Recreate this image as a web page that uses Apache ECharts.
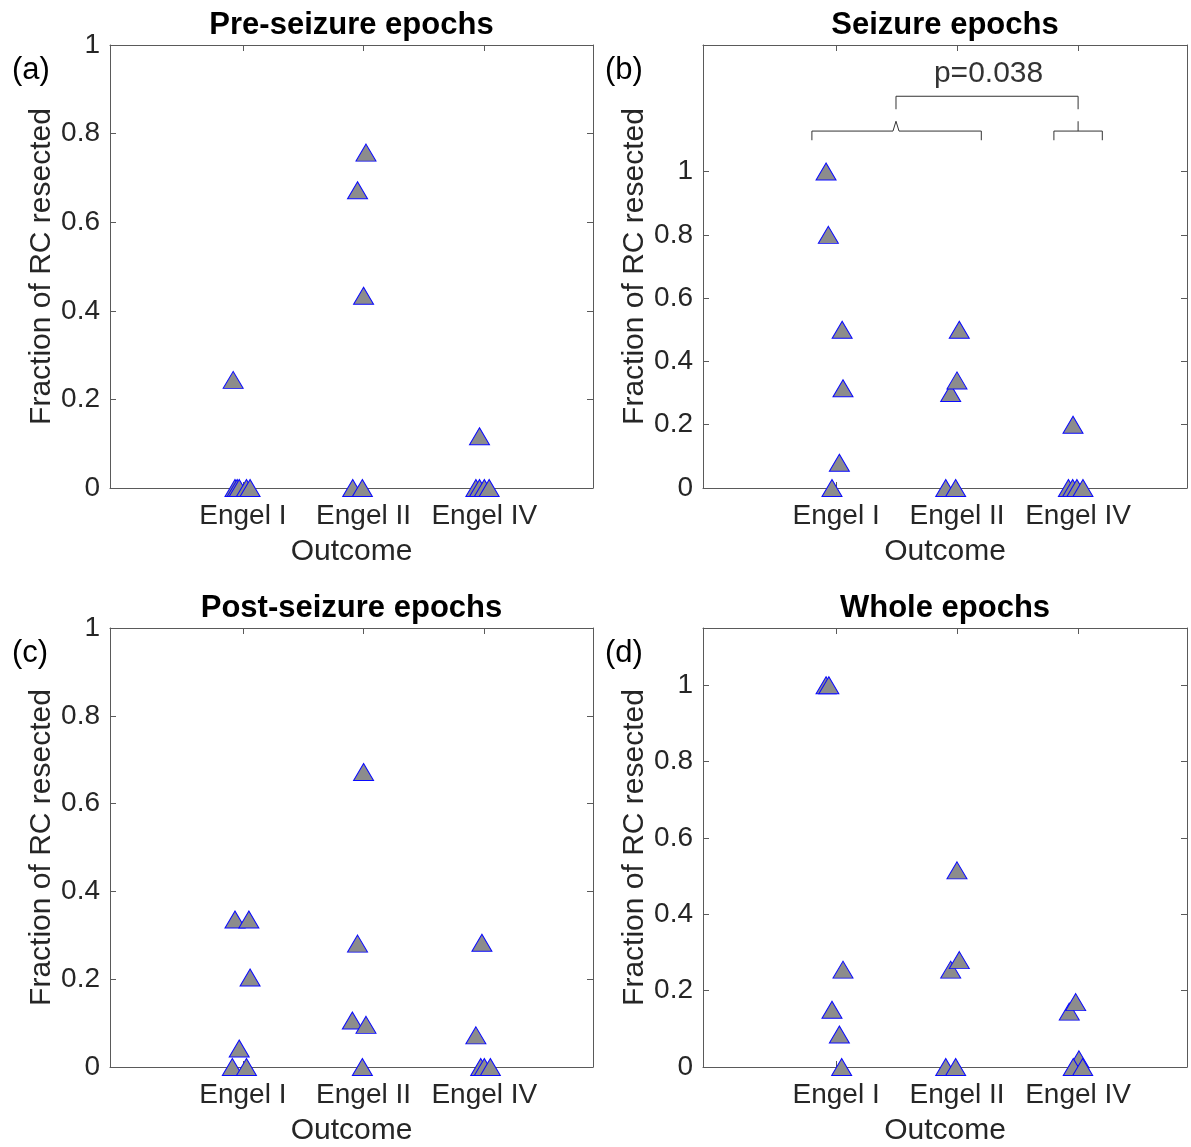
<!DOCTYPE html>
<html>
<head>
<meta charset="utf-8">
<title>Fraction of RC resected by outcome</title>
<script src="https://cdn.jsdelivr.net/npm/echarts@6/dist/echarts.min.js"></script>
<style>
  html, body { margin: 0; padding: 0; background: #fff; }
  #chart { width: 1191px; height: 1147px; }
</style>
</head>
<body>
<div id="chart"></div>
<script>
// Outcome groups on the x axis (group centres at 1, 2, 3; points are jittered around them)
const outcomeLabels = ['Engel I', 'Engel II', 'Engel IV'];
const outcomePositions = [1, 2, 3];
const fractionTicks = [0, 0.2, 0.4, 0.6, 0.8, 1];

const panelTitles = ['Pre-seizure epochs', 'Seizure epochs', 'Post-seizure epochs', 'Whole epochs'];
const panelTags = ['(a)', '(b)', '(c)', '(d)'];
const panelYMax = [1, 1.4, 1, 1.15];

// (a) Pre-seizure epochs
const preX = [0.92, 0.935, 0.953, 0.97, 1.03, 1.06,  2.02, 1.95, 2.0, 1.91, 1.99,  2.96, 2.93, 2.96, 3.0, 3.04];
const preY = [0.244, 0, 0, 0, 0, 0,  0.757, 0.672, 0.434, 0, 0,  0.117, 0, 0, 0, 0];

// (b) Seizure epochs
const seizureX = [0.917, 0.936, 1.05, 1.057, 1.027, 0.966,  2.018, 1.947, 1.999, 1.906, 1.988,  2.958, 2.92, 2.955, 2.99, 3.04];
const seizureY = [1.0, 0.8, 0.5, 0.315, 0.08, 0,  0.5, 0.3, 0.34, 0, 0,  0.2, 0, 0, 0, 0];

// (c) Post-seizure epochs
const postX = [0.935, 1.05, 1.06, 0.97, 0.913, 1.03,  2.0, 1.95, 1.907, 2.02, 1.99,  2.98, 2.93, 2.97, 3.0, 3.05];
const postY = [0.336, 0.336, 0.204, 0.042, 0, 0,  0.672, 0.281, 0.106, 0.096, 0,  0.283, 0.072, 0, 0, 0];

// (d) Whole epochs
const wholeX = [0.917, 0.94, 1.057, 0.966, 1.027, 1.046,  1.999, 1.947, 2.018, 1.906, 1.988,  2.927, 2.98, 3.007, 2.96, 3.038];
const wholeY = [1.0, 1.0, 0.255, 0.15, 0.085, 0,  0.515, 0.255, 0.28, 0, 0,  0.145, 0.17, 0.02, 0, 0];

// Significance brackets in panel (b)
const bracketLowerLeft = [[0.8, 1.099], [0.8, 1.128], [1.47, 1.128], [1.495, 1.159], [1.52, 1.128], [2.2, 1.128], [2.2, 1.099]];
const bracketLowerRight = [[2.8, 1.099], [2.8, 1.128], [3.2, 1.128], [3.2, 1.099]];
const bracketLowerRightStem = [[3.0, 1.128], [3.0, 1.159]];
const bracketUpper = [[1.495, 1.197], [1.495, 1.238], [3.0, 1.238], [3.0, 1.197]];
const pValueText = 'p=0.038';
const pValuePosition = [2.26, 1.31];

const panelX = [preX, seizureX, postX, wholeX];
const panelY = [preY, seizureY, postY, wholeY];

const FONT = '"Liberation Sans", Arial, Helvetica, sans-serif';
const INK = '#262626';
const AXIS = '#5a5a5a';

const grids = [
  { left: 110, top: 45, width: 483, height: 443 },
  { left: 703, top: 45, width: 484, height: 443 },
  { left: 110, top: 628, width: 483, height: 443 },
  { left: 703, top: 628, width: 484, height: 443 }
];

const xAxes = [];
const yAxes = [];
const series = [];
const graphics = [];

grids.forEach((g, i) => {
  const tickStyle = { show: true, inside: true, length: 6, lineStyle: { color: AXIS, width: 1 } };
  const lineStyle = { show: true, onZero: false, lineStyle: { color: AXIS, width: 1 } };
  const yTicks = fractionTicks.filter(v => v <= panelYMax[i] + 1e-9);

  // bottom x axis with group labels
  xAxes.push({
    type: 'value', gridIndex: i, position: 'bottom', min: -0.1, max: 3.9,
    axisLine: lineStyle,
    axisTick: Object.assign({ customValues: outcomePositions }, tickStyle),
    axisLabel: {
      customValues: outcomePositions, margin: 14,
      formatter: v => outcomeLabels[outcomePositions.indexOf(Math.round(v))] || '',
      fontFamily: FONT, fontSize: 28, color: INK
    },
    splitLine: { show: false },
    name: 'Outcome', nameLocation: 'middle', nameGap: 49,
    nameTextStyle: { fontFamily: FONT, fontSize: 30, color: INK }
  });
  // top mirror axis (box)
  xAxes.push({
    type: 'value', gridIndex: i, position: 'top', min: -0.1, max: 3.9,
    axisLine: lineStyle,
    axisTick: Object.assign({ customValues: outcomePositions }, tickStyle),
    axisLabel: { show: false },
    splitLine: { show: false }
  });
  // left y axis
  yAxes.push({
    type: 'value', gridIndex: i, position: 'left', min: 0, max: panelYMax[i],
    axisLine: lineStyle,
    axisTick: Object.assign({ customValues: yTicks }, tickStyle),
    axisLabel: {
      customValues: yTicks, margin: 10,
      formatter: v => String(Math.round(v * 10) / 10),
      fontFamily: FONT, fontSize: 28, color: INK
    },
    splitLine: { show: false },
    name: 'Fraction of RC resected', nameLocation: 'middle', nameGap: 52,
    nameTextStyle: { fontFamily: FONT, fontSize: 30, color: INK }
  });
  // right mirror axis (box)
  yAxes.push({
    type: 'value', gridIndex: i, position: 'right', min: 0, max: panelYMax[i],
    axisLine: lineStyle,
    axisTick: Object.assign({ customValues: yTicks }, tickStyle),
    axisLabel: { show: false },
    splitLine: { show: false }
  });

  series.push({
    type: 'scatter',
    xAxisIndex: 2 * i, yAxisIndex: 2 * i,
    data: panelX[i].map((x, k) => [x, panelY[i][k]]),
    symbol: 'triangle', symbolSize: [20, 17],
    itemStyle: { color: '#8c8c8c', borderColor: '#0a0aff', borderWidth: 1, opacity: 1 },
    clip: false, silent: true, animation: false
  });

  const cx = g.left + g.width / 2;
  graphics.push({
    type: 'text', x: cx, y: g.top - 20,
    style: {
      text: panelTitles[i], fontFamily: FONT, fontSize: 31, fontWeight: 'bold',
      fill: '#000', textAlign: 'center', textVerticalAlign: 'middle'
    }
  });
  graphics.push({
    type: 'text', x: g.left - 98, y: g.top + 25,
    style: {
      text: panelTags[i], fontFamily: FONT, fontSize: 31,
      fill: '#000', textAlign: 'left', textVerticalAlign: 'middle'
    }
  });
});

// brackets and p-value for panel (b)
[bracketLowerLeft, bracketLowerRight, bracketLowerRightStem, bracketUpper].forEach(path => {
  series.push({
    type: 'line', xAxisIndex: 2, yAxisIndex: 2, data: path,
    symbol: 'none', lineStyle: { color: '#333', width: 1 },
    silent: true, animation: false, clip: false, z: 1
  });
});
series.push({
  type: 'scatter', xAxisIndex: 2, yAxisIndex: 2,
  data: [pValuePosition], symbolSize: 0, silent: true, animation: false,
  label: {
    show: true, position: 'inside', formatter: pValueText,
    fontFamily: FONT, fontSize: 30, color: '#000'
  }
});

const chart = echarts.init(document.getElementById('chart'), null, { renderer: 'canvas' });
chart.setOption({
  backgroundColor: '#fff',
  animation: false,
  grid: grids,
  xAxis: xAxes,
  yAxis: yAxes,
  series: series,
  graphic: graphics
});
</script>
</body>
</html>
